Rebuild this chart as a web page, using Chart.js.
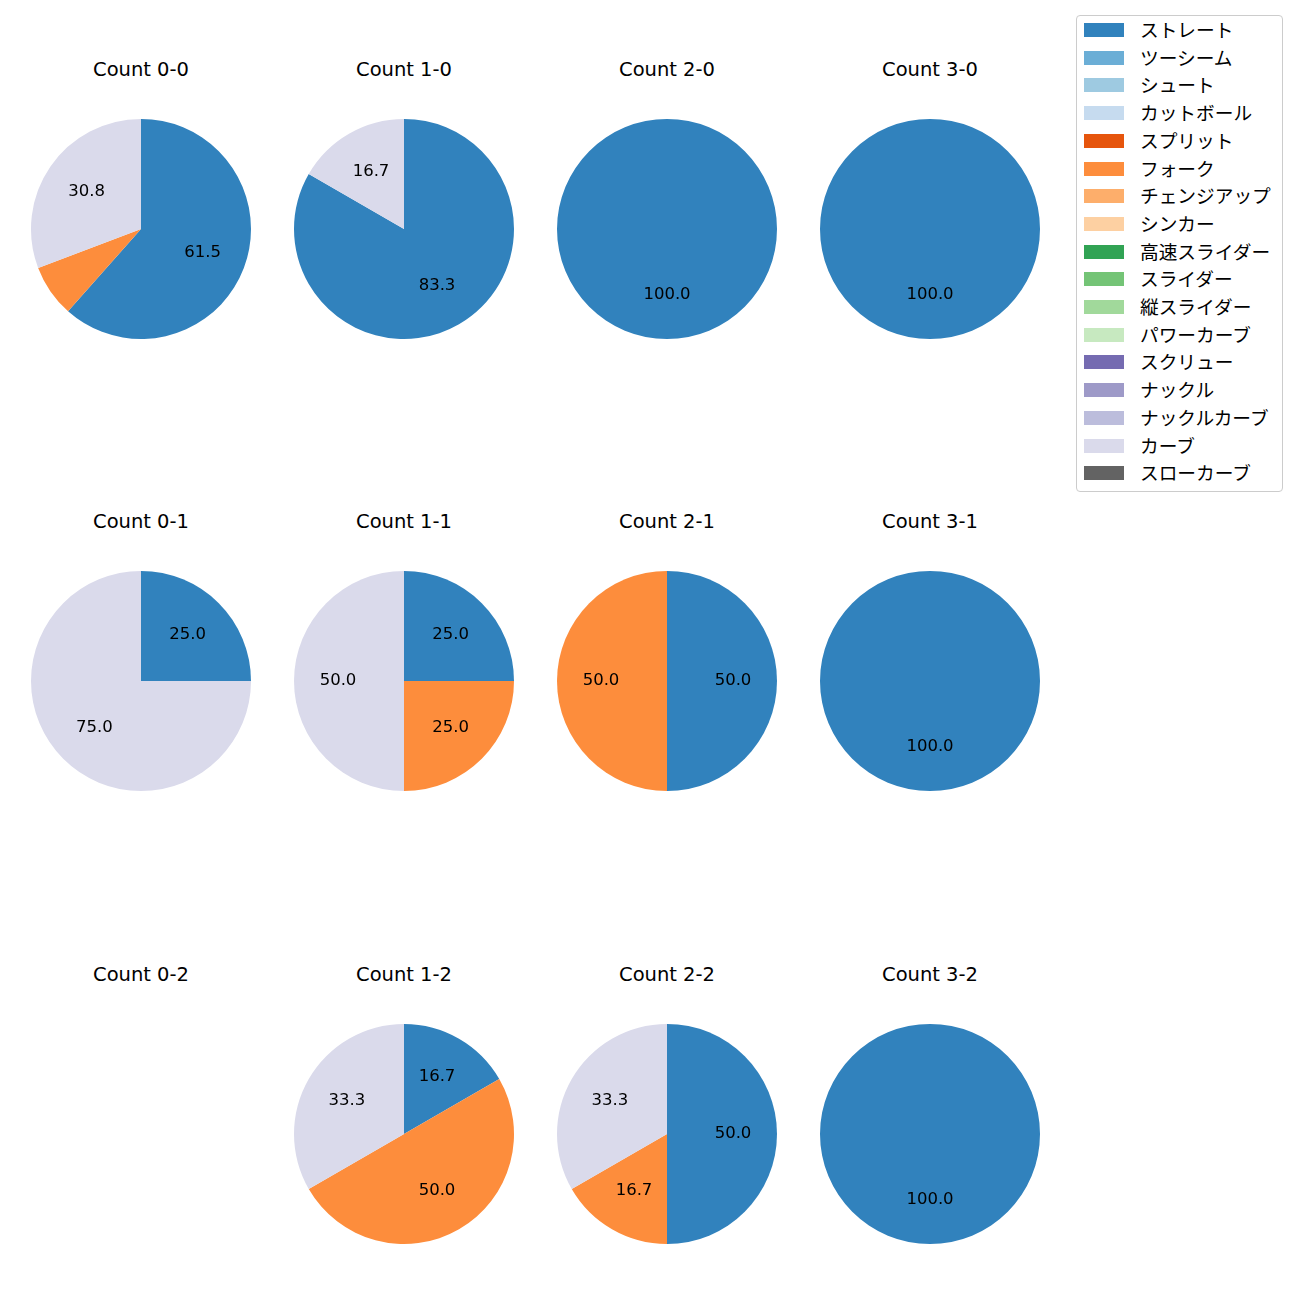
<!DOCTYPE html>
<html><head><meta charset="utf-8">
<script src="https://cdn.jsdelivr.net/npm/chart.js@4"></script>
<style>
body{margin:0;background:#fff;width:1300px;height:1300px;position:relative;font-family:"Noto Sans CJK JP","Noto Sans",sans-serif;}
.title{position:absolute;width:240px;text-align:center;font-size:19.5px;color:#000;line-height:24px;font-family:"DejaVu Sans","Noto Sans CJK JP",sans-serif;}
canvas{position:absolute;}
#legend{position:absolute;left:1076px;top:15px;width:207px;height:477px;border:1px solid #ccc;border-radius:4px;box-sizing:border-box;}
.li{position:absolute;left:7px;height:28px;font-size:18.7px;color:#000;}
.sw{position:absolute;left:0;width:40px;height:14px;}
.lt{position:absolute;left:56px;white-space:nowrap;}
</style></head><body>
<div id="legend"></div>
<script>
const pitchTypes = ["ストレート","ツーシーム","シュート","カットボール","スプリット","フォーク","チェンジアップ","シンカー","高速スライダー","スライダー","縦スライダー","パワーカーブ","スクリュー","ナックル","ナックルカーブ","カーブ","スローカーブ"];
const pitchColors = ["#3182bd","#6baed6","#9ecae1","#c6dbef","#e6550d","#fd8d3c","#fdae6b","#fdd0a2","#31a354","#74c476","#a1d99b","#c7e9c0","#756bb1","#9e9ac8","#bcbddc","#dadaeb","#636363"];
const countLabels = ["Count 0-0","Count 1-0","Count 2-0","Count 3-0","Count 0-1","Count 1-1","Count 2-1","Count 3-1","Count 0-2","Count 1-2","Count 2-2","Count 3-2"];
// pitch counts per type (order of pitchTypes)
const count00 = [8,0,0,0,0,1,0,0,0,0,0,0,0,0,0,4,0];
const count10 = [5,0,0,0,0,0,0,0,0,0,0,0,0,0,0,1,0];
const count20 = [1,0,0,0,0,0,0,0,0,0,0,0,0,0,0,0,0];
const count30 = [1,0,0,0,0,0,0,0,0,0,0,0,0,0,0,0,0];
const count01 = [1,0,0,0,0,0,0,0,0,0,0,0,0,0,0,3,0];
const count11 = [1,0,0,0,0,1,0,0,0,0,0,0,0,0,0,2,0];
const count21 = [1,0,0,0,0,1,0,0,0,0,0,0,0,0,0,0,0];
const count31 = [1,0,0,0,0,0,0,0,0,0,0,0,0,0,0,0,0];
const count02 = [0,0,0,0,0,0,0,0,0,0,0,0,0,0,0,0,0];
const count12 = [1,0,0,0,0,3,0,0,0,0,0,0,0,0,0,2,0];
const count22 = [3,0,0,0,0,1,0,0,0,0,0,0,0,0,0,2,0];
const count32 = [1,0,0,0,0,0,0,0,0,0,0,0,0,0,0,0,0];
const allCounts = [count00,count10,count20,count30,count01,count11,count21,count31,count02,count12,count22,count32];

const colX = [141,404,667,930];
const rowY = [229,681,1134];
const titleY = [70,522,975];
const R = 110, PAD = 10;

const pctLabels = {
  id:'pctLabels',
  afterDatasetsDraw(chart){
    const ctx = chart.ctx;
    const meta = chart.getDatasetMeta(0);
    const data = chart.data.datasets[0].data;
    const total = data.reduce((a,b)=>a+b,0);
    if(!total) return;
    ctx.save();
    ctx.font = '16.5px "DejaVu Sans","Noto Sans",sans-serif';
    ctx.fillStyle = '#000';
    ctx.textAlign = 'center';
    ctx.textBaseline = 'middle';
    meta.data.forEach((arc,i)=>{
      const v = data[i];
      if(!v) return;
      const pct = v/total*100;
      if(pct < 10) return;
      const p = arc.getProps(['x','y','startAngle','endAngle','outerRadius'],true);
      const m = (p.startAngle+p.endAngle)/2;
      const r = p.outerRadius*0.6;
      ctx.fillText(pct.toFixed(1), p.x + r*Math.cos(m), p.y + r*Math.sin(m));
    });
    ctx.restore();
  }
};

allCounts.forEach((vals,k)=>{
  const c = k%4, r = Math.floor(k/4);
  const t = document.createElement('div');
  t.className='title';
  t.style.left=(colX[c]-120)+'px';
  t.style.top=(titleY[r]-12)+'px';
  t.textContent=countLabels[k];
  document.body.appendChild(t);
  const cv = document.createElement('canvas');
  const size = 2*(R+PAD);
  cv.width=size; cv.height=size;
  cv.style.width=size+'px'; cv.style.height=size+'px';
  cv.style.left=(colX[c]-size/2)+'px';
  cv.style.top=(rowY[r]-size/2)+'px';
  document.body.appendChild(cv);
  new Chart(cv,{
    type:'pie',
    data:{labels:pitchTypes,datasets:[{data:vals,backgroundColor:pitchColors,borderWidth:0}]},
    options:{responsive:false,animation:false,layout:{padding:PAD},
      plugins:{legend:{display:false},tooltip:{enabled:false}}},
    plugins:[pctLabels]
  });
});

const lg = document.getElementById('legend');
pitchTypes.forEach((name,i)=>{
  const d = document.createElement('div');
  d.className='li';
  d.style.top=(i*27.7)+'px';
  d.innerHTML='<div class="sw" style="top:7px;background:'+pitchColors[i]+'"></div><div class="lt" style="top:-1px;line-height:28px">'+name+'</div>';
  lg.appendChild(d);
});
</script>
</body></html>
